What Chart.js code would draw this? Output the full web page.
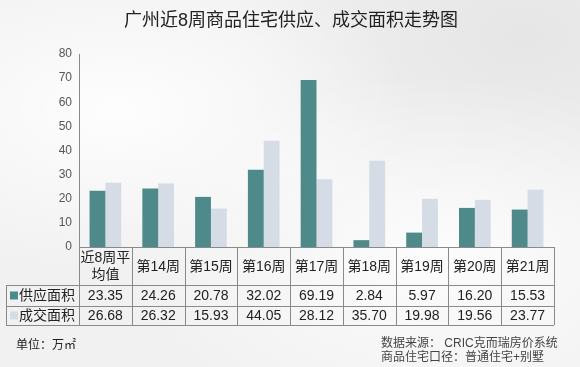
<!DOCTYPE html>
<html>
<head>
<meta charset="utf-8">
<script src="https://cdn.jsdelivr.net/npm/chart.js@4/dist/chart.umd.min.js"></script>
<style>
  html, body { margin: 0; padding: 0; }
  body {
    width: 580px; height: 367px; overflow: hidden;
    background:
      radial-gradient(ellipse at 20% 30%, rgba(255,255,255,0.9), rgba(255,255,255,0) 45%),
      radial-gradient(ellipse at 75% 70%, rgba(255,255,255,0.8), rgba(255,255,255,0) 50%),
      radial-gradient(ellipse at 90% 10%, rgba(225,225,225,0.7), rgba(225,225,225,0) 40%),
      #f1f1f1;
  }
  #wrap { position: relative; width: 580px; height: 367px; }
</style>
</head>
<body>
<div id="wrap"><canvas id="myChart" width="580" height="367"></canvas></div>
<script>
var categories = [["近8周平", "均值"], ["第14周"], ["第15周"], ["第16周"], ["第17周"], ["第18周"], ["第19周"], ["第20周"], ["第21周"]];
var supplyValues = [23.35, 24.26, 20.78, 32.02, 69.19, 2.84, 5.97, 16.20, 15.53];
var dealValues = [26.68, 26.32, 15.93, 44.05, 28.12, 35.70, 19.98, 19.56, 23.77];
var seriesNames = ["供应面积", "成交面积"];
var barColors = ["#4e8a8a", "#d5dce6"];
var titleText = "广州近8周商品住宅供应、成交面积走势图";
var unitText = "单位：万㎡";
var sourceLines = ["数据来源： CRIC克而瑞房价系统", "商品住宅口径：普通住宅+别墅"];

var cjk = '"Liberation Sans", "Noto Sans CJK SC", sans-serif';

// data table + titles under / around the plot
var tablePlugin = {
  id: "dataTable",
  afterDraw: function (chart) {
    var ctx = chart.ctx;
    var xs = chart.scales.x;
    var area = chart.chartArea;
    var n = categories.length;
    var colW = (area.right - area.left) / n;
    var top = area.bottom;
    var rowTops = [top, 285, 306, 325];
    var leftEdge = 6;

    ctx.save();
    ctx.strokeStyle = "#8a8a8a";
    ctx.lineWidth = 1;
    ctx.beginPath();
    // horizontal lines
    ctx.moveTo(area.left, rowTops[0] + 0.5); ctx.lineTo(area.right, rowTops[0] + 0.5);
    for (var r = 1; r < rowTops.length; r++) {
      ctx.moveTo(leftEdge, rowTops[r] + 0.5); ctx.lineTo(area.right, rowTops[r] + 0.5);
    }
    // vertical lines
    ctx.moveTo(leftEdge + 0.5, rowTops[1]); ctx.lineTo(leftEdge + 0.5, rowTops[3]);
    for (var i = 0; i <= n; i++) {
      var x = Math.round(area.left + i * colW) + 0.5;
      ctx.moveTo(x, rowTops[0]); ctx.lineTo(x, rowTops[3]);
    }
    ctx.stroke();

    ctx.fillStyle = "#222";
    ctx.font = "14px " + cjk;
    ctx.textAlign = "center";
    ctx.textBaseline = "middle";
    for (var j = 0; j < n; j++) {
      var cx = xs.getPixelForValue(j);
      var lines = categories[j];
      var mid = (rowTops[0] + rowTops[1]) / 2 + 1;
      for (var k = 0; k < lines.length; k++) {
        ctx.fillText(lines[k], cx, mid + (k - (lines.length - 1) / 2) * 17);
      }
      ctx.fillText(supplyValues[j].toFixed(2), cx, (rowTops[1] + rowTops[2]) / 2 + 1);
      ctx.fillText(dealValues[j].toFixed(2), cx, (rowTops[2] + rowTops[3]) / 2 + 1);
    }
    // row labels with legend keys
    var series = [[seriesNames[0], barColors[0]], [seriesNames[1], barColors[1]]];
    ctx.textAlign = "left";
    for (var s = 0; s < 2; s++) {
      var cy = (rowTops[s + 1] + rowTops[s + 2]) / 2;
      ctx.fillStyle = series[s][1];
      ctx.fillRect(10, cy - 4, 8, 8);
      ctx.fillStyle = "#222";
      ctx.fillText(series[s][0], 19, cy + 1);
    }

    // title
    ctx.textAlign = "center";
    ctx.font = "18px " + cjk;
    ctx.fillStyle = "#222";
    ctx.fillText(titleText, 291, 21);

    // footer
    ctx.font = "12px " + cjk;
    ctx.textAlign = "left";
    ctx.fillStyle = "#222";
    ctx.fillText(unitText, 16, 346);
    ctx.fillStyle = "#444";
    ctx.fillText(sourceLines[0], 381, 344);
    ctx.fillText(sourceLines[1], 381, 358);
    ctx.restore();
  }
};

new Chart("myChart", {
  type: "bar",
  data: {
    labels: categories.map(function (c) { return c.join(""); }),
    datasets: [
      { label: seriesNames[0], data: supplyValues, backgroundColor: barColors[0], barPercentage: 1, categoryPercentage: 0.6 },
      { label: seriesNames[1], data: dealValues, backgroundColor: barColors[1], barPercentage: 1, categoryPercentage: 0.6 }
    ]
  },
  options: {
    responsive: false,
    animation: false,
    layout: { padding: { left: 0, right: 26, top: 54, bottom: 120 } },
    plugins: {
      legend: { display: false },
      title: { display: false },
      tooltip: { enabled: false }
    },
    scales: {
      x: { display: false },
      y: {
        min: 0, max: 80,
        ticks: { stepSize: 10, color: "#555", padding: 7, font: { size: 12, family: cjk } },
        grid: { display: false, drawTicks: false },
        border: { display: true, color: "#8a8a8a" },
        afterFit: function (scale) { scale.width = 79; }
      }
    }
  },
  plugins: [tablePlugin]
});
</script>
</body>
</html>
